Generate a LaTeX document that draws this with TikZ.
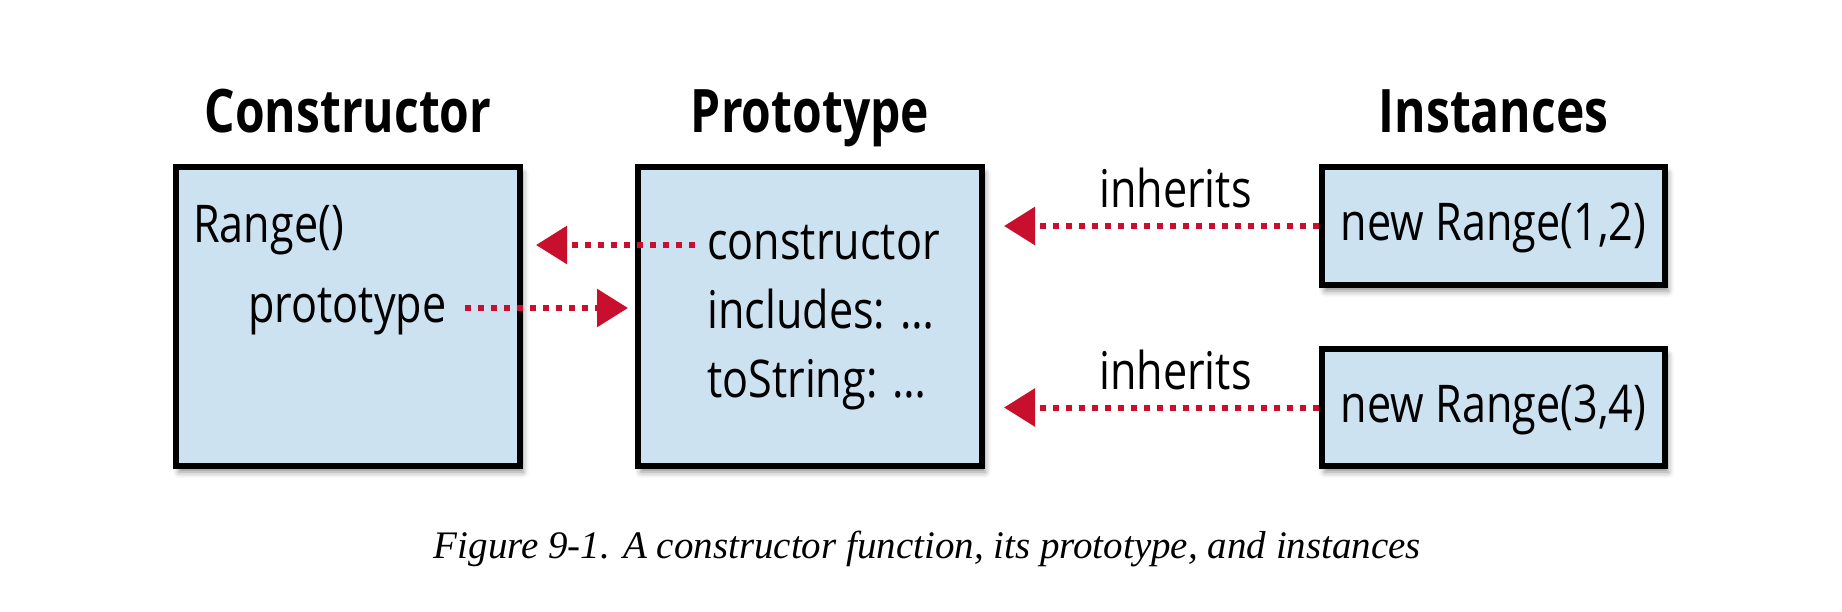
\documentclass[tikz,border=0pt]{standalone}
\usepackage{fontspec}
\setmainfont{Open Sans}[FakeStretch=0.83]
\newfontfamily\titlefont{Open Sans}[FakeStretch=0.80]
\newfontfamily\capfont{Liberation Serif}
\usetikzlibrary{arrows.meta,shadows.blur}
\definecolor{boxblue}{RGB}{205,226,241}
\definecolor{linkred}{RGB}{200,16,46}

\begin{document}
\begin{tikzpicture}[x=1pt,y=-1pt,
  box/.style={rectangle, draw=black, line width=6pt, fill=boxblue,
    blur shadow={shadow xshift=3pt, shadow yshift=-6pt, shadow blur radius=6pt, shadow opacity=45}},
  field/.style={inner sep=0pt, text height=30pt, text depth=0pt, font=\fontsize{52}{60}\selectfont},
  title/.style={anchor=base, font=\titlefont\bfseries\fontsize{60}{70}\selectfont},
  link/.style={draw=linkred, line width=6pt, dash pattern=on 6pt off 7pt, -{Triangle[length=31pt,width=37pt]}}]
\useasboundingbox (0,0) rectangle (1842,612);

\node[title] (ctorT) at (348,133) {Constructor};
\node[title] (protoT) at (810,133) {Prototype};
\node[title] (instT) at (1493.5,133) {Instances};

\node[box, minimum width=344pt, minimum height=299pt] (ctor) at (348,316.5) {};
\node[box, minimum width=344pt, minimum height=299pt] (proto) at (810,316.5) {};
\node[box, field, minimum width=343pt, minimum height=118pt] (inst1) at (1493.5,226) {new Range(1,2)};
\node[box, field, minimum width=343pt, minimum height=117pt] (inst2) at (1493.5,407.5) {new Range(3,4)};

\node[field, anchor=base west] (rangeF) at (193,243) {Range()};
\node[field, anchor=base west] (protoF) at (248,323) {prototype};
\node[field, anchor=base west] (consF) at (707,260) {constructor};
\node[field, anchor=base west] (inclF) at (707,328) {includes: …};
\node[field, anchor=base west] (tostrF) at (707,397) {toString: …};

\draw[link, shorten <=12pt, shorten >=13pt] (consF.west) -- (ctor.east |- consF.west);
\draw[link, shorten <=18pt, shorten >=7pt] (protoF.east) -- (proto.west |- protoF.east);
\draw[link, shorten >=19pt] (inst1.west) -- (proto.east |- inst1.west)
  node[pos=0.43, anchor=base, yshift=18pt, font=\fontsize{52}{60}\selectfont] (inh1) {inherits};
\draw[link, shorten >=19pt] (inst2.west) -- (proto.east |- inst2.west)
  node[pos=0.43, anchor=base, yshift=18pt, font=\fontsize{52}{60}\selectfont] (inh2) {inherits};

\node[anchor=base, font=\capfont\itshape\fontsize{39}{45}\selectfont] (cap) at (927.5,558) {Figure 9-1. A constructor function, its prototype, and instances};
\end{tikzpicture}
\end{document}
